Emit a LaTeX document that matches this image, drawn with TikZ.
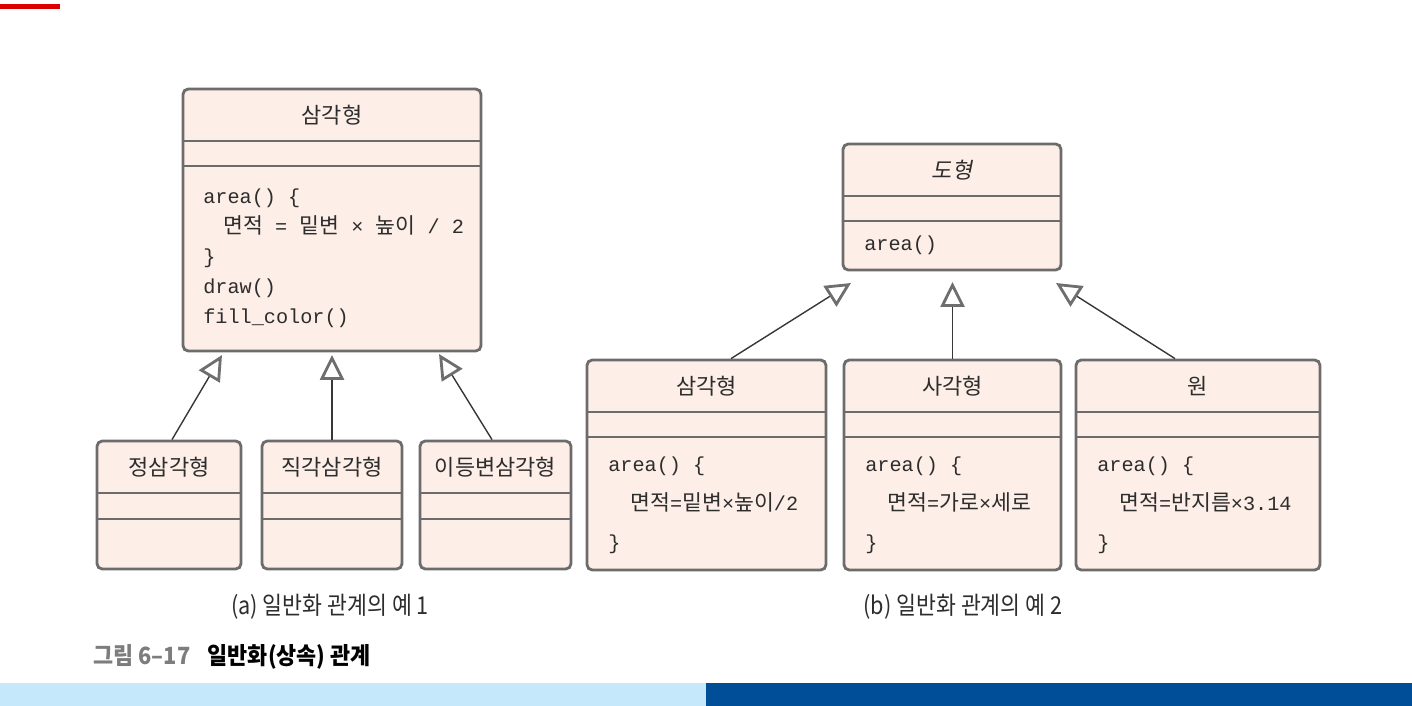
\documentclass[tikz,border=0pt]{standalone}
\usepackage{fontspec}
\setmainfont{Noto Sans CJK KR}
\setmonofont{Liberation Mono}
\newfontfamily\kr{Noto Sans CJK KR}
\newfontfamily\krsl[FakeSlant=0.2]{Noto Sans CJK KR}
\newfontfamily\krcap[FakeStretch=0.88]{Noto Sans CJK KR}
\newfontfamily\krfig[FakeStretch=0.92]{Noto Sans CJK KR}
\usepackage{tikz}
\usetikzlibrary{positioning,arrows.meta,calc,fit}
\definecolor{cFill}{RGB}{253,238,231}
\definecolor{cLine}{RGB}{108,108,108}
\definecolor{aLine}{RGB}{55,55,55}
\definecolor{aHead}{RGB}{110,110,110}
\definecolor{tDark}{RGB}{45,45,45}
\definecolor{bandL}{RGB}{197,233,250}
\definecolor{bandD}{RGB}{0,78,152}
\definecolor{capGray}{RGB}{125,125,125}
\definecolor{mRed}{RGB}{218,0,0}
\tikzset{
  cls/.style={draw=cLine, fill=cFill, line width=1.6pt, rounded corners=3pt,
              inner sep=0pt},
  sep/.style={draw=cLine, line width=1.6pt},
  ctitle/.style={font=\kr\fontsize{12.5}{15}\selectfont, text=tDark, inner sep=0pt},
  ops/.style={anchor=north west, align=left, inner sep=0pt, text=tDark,
              font=\ttfamily\fontsize{11.5}{17}\selectfont},
  opsw/.style={ops, font=\ttfamily\fontsize{11.5}{22}\selectfont},
  gen/.style={draw=aLine, line width=0.8pt,
              -{Triangle[open, length=5mm, width=4.8mm, line width=1.6pt, color=aHead]}},
  subcap/.style={font=\krcap\fontsize{14}{16}\selectfont, text=tDark, inner sep=0pt},
}
\newcommand{\hg}[1]{{\kr\fontsize{12.3}{17}\selectfont #1}}
\newcommand{\Klass}[8]{% {name}{x1}{y1}{x2}{y2}{div1}{div2}{title}
  \node[cls, fit={(#2,#3) (#4,#5)}] (#1) {};
  \draw[sep] (#2,#6) -- (#4,#6);
  \draw[sep] (#2,#7) -- (#4,#7);
  \node[ctitle] (#1-name) at ({(#2+#4)/2},{(#3+#6)/2}) {#8};}

\begin{document}
\begin{tikzpicture}[x=0.02cm, y=-0.02cm]
  \useasboundingbox (0,0) rectangle (1412,706);
  \fill[mRed] (0,4) rectangle (60,9);
  % (a) one parent, three kinds of triangle
  \Klass{tri}{183}{89}{481}{351}{141}{166}{삼각형}
  \node[ops] (tri-ops) at (203,189) {area() \{\\
    \hspace*{0.4cm}\hg{면적} = \hg{밑변} × \hg{높이} / 2\\
    \}\\
    draw()\\
    fill\_color()};
  \Klass{eqt}{97}{441}{241}{569}{493}{519}{정삼각형}
  \Klass{rgt}{262}{441}{402}{569}{493}{519}{직각삼각형}
  \Klass{iso}{420}{441}{571}{569}{493}{519}{이등변삼각형}
  \coordinate (tri-t1) at (222,355);
  \coordinate (tri-t2) at (rgt.north |- 0,355);
  \coordinate (tri-t3) at (439,354);
  \draw[gen] (eqt.north -| 172,0) -- (tri-t1);
  \draw[gen] (rgt.north) -- (tri-t2);
  \draw[gen] (iso.north -| 492,0) -- (tri-t3);
  \node[subcap] (capa) at (330,607) {(a) 일반화 관계의 예 1};
  % (b) abstract shape and its subclasses
  \Klass{shp}{843}{144}{1061}{270}{196}{221}{\krsl 도형}
  \node[ops] (shp-ops) at (864,236) {area()};
  \Klass{stri}{587}{360}{826}{570}{412}{437}{삼각형}
  \Klass{rect}{844}{360}{1061}{570}{412}{437}{사각형}
  \Klass{circ}{1076}{360}{1320}{570}{412}{437}{원}
  \node[opsw] (stri-ops) at (608,457) {area() \{\\
    \hspace*{0.44cm}\hg{면적}=\hg{밑변}×\hg{높이}/2\\
    \}};
  \node[opsw] (rect-ops) at (865,457) {area() \{\\
    \hspace*{0.44cm}\hg{면적}=\hg{가로}×\hg{세로}\\
    \}};
  \node[opsw] (circ-ops) at (1097,457) {area() \{\\
    \hspace*{0.44cm}\hg{면적}=\hg{반지름}×3.14\\
    \}};
  \coordinate (shp-t1) at (851,283);
  \coordinate (shp-t2) at (rect.north |- 0,282);
  \coordinate (shp-t3) at (1056,283);
  \draw[gen] (stri.north -| 731,0) -- (shp-t1);
  \draw[gen] (rect.north) -- (shp-t2);
  \draw[gen] (circ.north -| 1175,0) -- (shp-t3);
  \node[subcap] (capb) at (963,607) {(b) 일반화 관계의 예 2};
  % figure caption and footer band
  \node[anchor=west, inner sep=0pt, font=\krfig\bfseries\fontsize{13.5}{16}\selectfont]
    (fig) at (93,657) {\textcolor{capGray}{그림 6–17}\hspace{0.35cm}일반화(상속) 관계};
  \fill[bandL] (0,683) rectangle (706,706);
  \fill[bandD] (706,683) rectangle (1412,706);
\end{tikzpicture}
\end{document}
